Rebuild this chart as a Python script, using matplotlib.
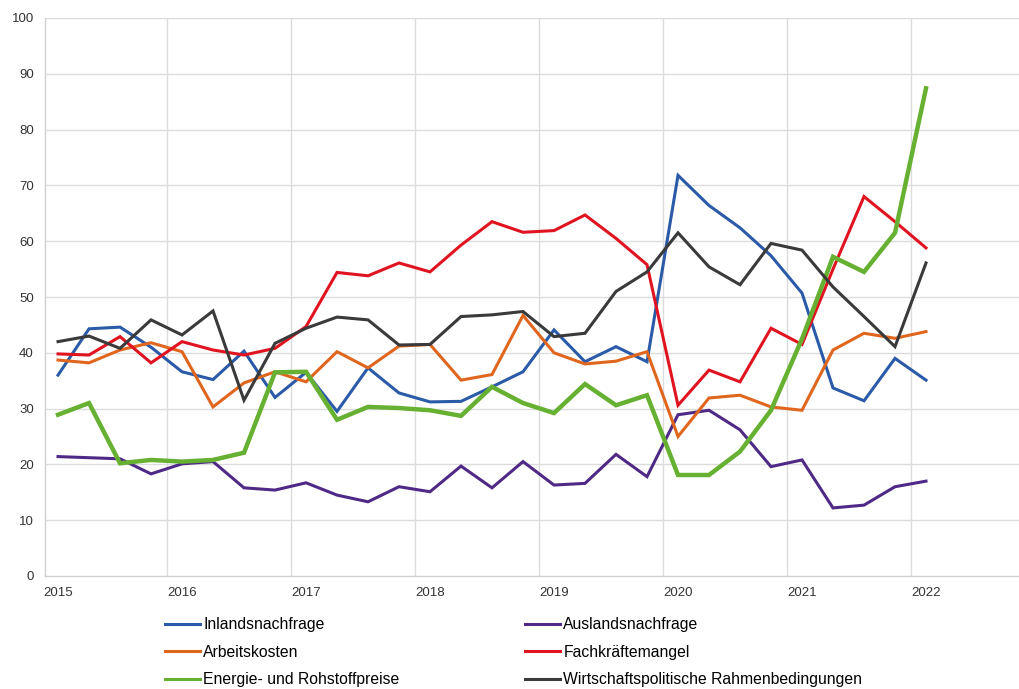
import matplotlib
matplotlib.use("Agg")
import matplotlib.pyplot as plt
from matplotlib.lines import Line2D

# Quarterly data 2015Q1 .. 2022Q1
year_labels = ["2015", "2016", "2017", "2018", "2019", "2020", "2021", "2022"]

inlandsnachfrage = [36.0, 44.3, 44.6, 41.0, 36.6, 35.2, 40.3, 32.0, 36.5, 29.5,
                    37.3, 32.8, 31.2, 31.3, 33.9, 36.6, 44.1, 38.4, 41.1, 38.4,
                    71.8, 66.4, 62.4, 57.4, 50.7, 33.7, 31.4, 39.0, 35.1]
auslandsnachfrage = [21.4, 21.2, 21.0, 18.3, 20.1, 20.5, 15.8, 15.4, 16.7, 14.5,
                     13.3, 16.0, 15.1, 19.7, 15.8, 20.5, 16.3, 16.6, 21.8, 17.8,
                     28.9, 29.7, 26.2, 19.6, 20.8, 12.2, 12.7, 16.0, 17.0]
arbeitskosten = [38.7, 38.2, 40.5, 41.8, 40.2, 30.3, 34.6, 36.6, 34.8, 40.2,
                 37.3, 41.2, 41.5, 35.1, 36.1, 46.7, 40.0, 38.0, 38.5, 40.2,
                 25.0, 31.9, 32.4, 30.3, 29.7, 40.5, 43.5, 42.6, 43.8]
fachkraeftemangel = [39.8, 39.6, 42.9, 38.2, 42.0, 40.5, 39.6, 40.8, 44.7, 54.4,
                     53.8, 56.1, 54.5, 59.3, 63.5, 61.6, 61.9, 64.7, 60.5, 55.8,
                     30.6, 36.9, 34.8, 44.4, 41.5, 55.0, 68.0, 63.5, 58.8]
energie = [28.9, 31.0, 20.2, 20.8, 20.5, 20.8, 22.1, 36.5, 36.6, 28.0,
           30.3, 30.1, 29.7, 28.7, 33.9, 31.0, 29.2, 34.4, 30.6, 32.4,
           18.1, 18.1, 22.3, 29.7, 42.5, 57.2, 54.5, 61.5, 87.4]
wirtschaftspolitik = [42.0, 43.0, 40.8, 45.9, 43.2, 47.5, 31.5, 41.7, 44.4, 46.4,
                      45.9, 41.4, 41.5, 46.5, 46.8, 47.4, 42.9, 43.5, 51.0, 54.5,
                      61.5, 55.4, 52.2, 59.6, 58.4, 51.8, 46.5, 41.1, 56.1]

series = [
    ("Inlandsnachfrage", inlandsnachfrage, "#2a5aa8", 2.2),
    ("Auslandsnachfrage", auslandsnachfrage, "#4e2a86", 2.2),
    ("Arbeitskosten", arbeitskosten, "#e0661e", 2.2),
    ("Fachkräftemangel", fachkraeftemangel, "#e01420", 2.2),
    ("Energie- und Rohstoffpreise", energie, "#66b032", 3.2),
    ("Wirtschaftspolitische Rahmenbedingungen", wirtschaftspolitik, "#3a3a3a", 2.2),
]

plt.rcParams["font.family"] = ["Liberation Sans", "DejaVu Sans"]

fig = plt.figure(figsize=(10.19, 6.89), dpi=100)
ax = fig.add_axes([45 / 1019, (689 - 576) / 689, 1 - 45 / 1019, (576 - 18) / 689])

n = len(inlandsnachfrage)
x = list(range(n))

grid_c = "#dcdcdc"
for yv in range(10, 101, 10):
    ax.axhline(yv, color=grid_c, lw=1.0, zorder=0)
for xv in range(3, 32, 4):
    ax.axvline(xv + 0.5, color=grid_c, lw=1.0, zorder=0)

handles = {}
for name, vals, col, lw in series:
    ax.plot(x, vals, color=col, lw=lw, solid_joinstyle="miter", zorder=3)
    handles[name] = Line2D([], [], color=col, lw=2.2)

ax.set_xlim(-0.42, 31.0)
ax.set_ylim(0, 100)
ax.set_yticks(range(0, 101, 10))
ax.set_xticks(range(0, n, 4))
ax.set_xticklabels(year_labels)
ax.tick_params(axis="both", length=0, labelsize=9.5, colors="#333333")
ax.tick_params(axis="y", pad=8)
ax.tick_params(axis="x", pad=8)
for s in ["top", "right"]:
    ax.spines[s].set_visible(False)
for s in ["left", "bottom"]:
    ax.spines[s].set_color("#d0d0d0")
    ax.spines[s].set_linewidth(1.0)

col1 = ["Inlandsnachfrage", "Arbeitskosten", "Energie- und Rohstoffpreise"]
col2 = ["Auslandsnachfrage", "Fachkräftemangel", "Wirtschaftspolitische Rahmenbedingungen"]
legkw = dict(frameon=False, fontsize=11.3, handlelength=2.25, handletextpad=0.2,
             labelspacing=0.8, borderpad=0, borderaxespad=0, loc="upper left")
fig.legend([handles[k] for k in col1], col1,
           bbox_to_anchor=(165 / 1019, 1 - 617 / 689), **legkw)
fig.legend([handles[k] for k in col2], col2,
           bbox_to_anchor=(525 / 1019, 1 - 617 / 689), **legkw)

fig.savefig("out.png", dpi=100, facecolor="white")
